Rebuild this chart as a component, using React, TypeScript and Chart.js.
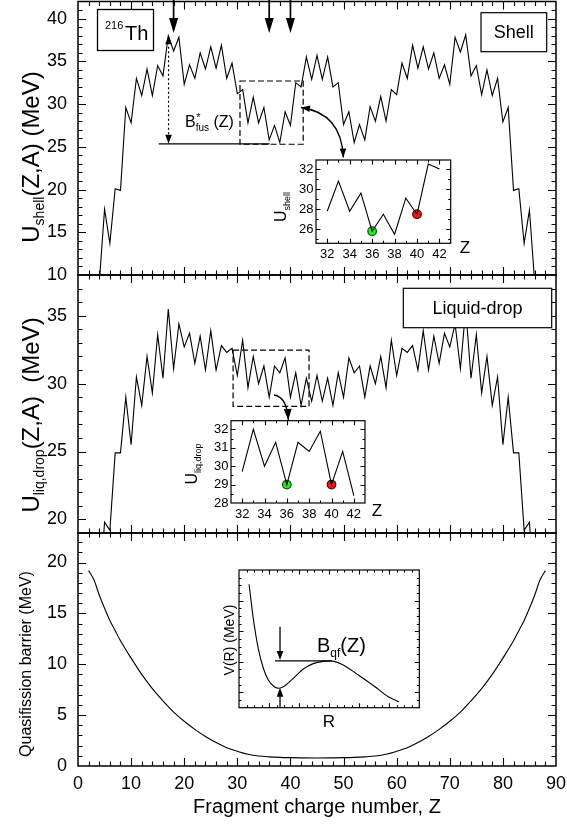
import React, { useEffect, useRef } from 'react';
import { Chart, registerables } from 'chart.js';
Chart.register(...registerables);

const FONT = "'Liberation Sans', Arial, Helvetica, sans-serif";

// ---------------- data ----------------
const fragZ = [4, 5, 6, 7, 8, 9, 10, 11, 12, 13, 14, 15, 16, 17, 18, 19, 20, 21, 22, 23, 24, 25, 26, 27, 28, 29, 30, 31, 32, 33, 34, 35, 36, 37, 38, 39, 40, 41, 42, 43, 44, 45, 46, 47, 48, 49, 50, 51, 52, 53, 54, 55, 56, 57, 58, 59, 60, 61, 62, 63, 64, 65, 66, 67, 68, 69, 70, 71, 72, 73, 74, 75, 76, 77, 78, 79, 80, 81, 82, 83, 84, 85, 86];

const shellU = [9.0, 17.7, 13.7, 20.1, 19.9, 29.6, 27.8, 33.0, 31.0, 34.1, 31.0, 34.5, 33.3, 38.0, 36.2, 37.8, 32.3, 34.6, 33.0, 36.0, 34.1, 36.7, 34.2, 36.9, 33.0, 34.8, 31.2, 31.7, 27.8, 30.8, 27.8, 29.6, 25.8, 27.5, 25.5, 29.1, 27.5, 32.5, 32.0, 35.5, 32.9, 35.7, 32.9, 35.5, 32.0, 32.5, 27.6, 29.1, 25.5, 27.6, 25.8, 29.7, 28.0, 30.9, 28.0, 31.7, 31.1, 34.8, 33.0, 36.9, 34.2, 36.7, 34.1, 36.0, 33.0, 34.6, 32.3, 37.8, 36.1, 38.1, 33.3, 34.5, 31.1, 34.0, 31.0, 33.0, 27.9, 29.6, 19.9, 20.1, 13.7, 17.6, 9.0];

const liqU = [14.0, 19.8, 19.2, 24.9, 24.9, 29.0, 25.5, 30.5, 28.4, 32.0, 29.3, 33.6, 30.4, 35.5, 31.1, 34.4, 32.7, 33.7, 31.5, 33.5, 31.0, 33.9, 31.0, 32.8, 32.3, 32.6, 30.6, 33.2, 29.7, 32.0, 30.0, 31.3, 29.0, 31.3, 30.8, 31.9, 29.0, 30.8, 28.4, 30.4, 28.7, 30.6, 28.7, 30.4, 28.4, 30.8, 29.0, 31.9, 30.8, 31.3, 29.0, 31.3, 30.0, 32.0, 29.7, 33.2, 30.6, 32.6, 32.3, 32.8, 31.0, 33.9, 31.0, 33.5, 31.5, 33.7, 32.7, 34.4, 31.1, 35.5, 30.4, 33.6, 29.3, 32.0, 28.4, 30.5, 25.5, 29.0, 24.9, 24.9, 19.2, 19.8, 14.0];

const qfZ = [2, 3, 4, 5, 6, 7, 8, 10, 12, 14, 16, 18, 20, 22, 24, 26, 28, 30, 32, 34, 36, 38, 40, 42, 45, 48, 50, 52, 54, 56, 58, 60, 62, 64, 66, 68, 70, 72, 74, 76, 78, 80, 82, 83, 84, 85, 86, 87, 88];
const qfB = [19.2, 18.3, 16.8, 15.5, 14.3, 13.3, 12.3, 10.6, 9.0, 7.6, 6.4, 5.3, 4.4, 3.6, 2.9, 2.3, 1.8, 1.45, 1.15, 0.98, 0.9, 0.85, 0.82, 0.8, 0.79, 0.8, 0.82, 0.85, 0.9, 0.98, 1.15, 1.45, 1.8, 2.3, 2.9, 3.6, 4.4, 5.3, 6.4, 7.6, 9.0, 10.6, 12.3, 13.3, 14.3, 15.5, 16.8, 18.3, 19.2];

// schematic V(R) curve of the inset (arbitrary units)
const potR = [0.67, 0.95, 1.28, 1.62, 1.95, 2.35, 2.66, 3.06, 3.61, 4.28, 4.94, 5.6, 6.1, 6.8, 7.94, 9.05, 9.93, 10.65];
const potV = [8.07, 5.84, 3.88, 2.58, 1.81, 1.37, 1.27, 1.44, 1.92, 2.53, 2.88, 3.03, 3.06, 2.85, 2.14, 1.37, 0.72, 0.39];

const insetRange = [32, 42];
const markZ = [36, 40];
const markFill = ['#2ee62e', '#f01818'];
const markEdge = ['#0a5a0a', '#500000'];
const arrowZ = [18, 36, 40];

const mainXTicks = [0, 10, 20, 30, 40, 50, 60, 70, 80, 90];
const shellYTicks = [10, 15, 20, 25, 30, 35, 40];
const liqYTicks = [20, 25, 30, 35];
const qfYTicks = [0, 5, 10, 15, 20];
const insetXTicks = [32, 34, 36, 38, 40, 42];
const insetShellYTicks = [26, 28, 30, 32];
const insetLiqYTicks = [28, 29, 30, 31, 32];

// ---------------- helpers ----------------
const toXY = (xs: number[], ys: number[]) => xs.map((x, i) => ({ x, y: ys[i] }));
const sliceXY = (xs: number[], ys: number[]) =>
  toXY(xs, ys).filter((p) => p.x >= insetRange[0] && p.x <= insetRange[1]);
const lineDs = (data: any[], extra: any = {}) => ({
  data, borderColor: '#000', borderWidth: 1.1, pointRadius: 0, fill: false, tension: 0, ...extra,
});
const dotDs = (xs: number[], ys: number[]) => ({
  data: markZ.map((z) => ({ x: z, y: ys[xs.indexOf(z)] })),
  showLine: false, pointRadius: 4.3, pointBackgroundColor: markFill, pointBorderColor: markEdge,
  pointBorderWidth: 1.2, borderColor: '#000',
});

type Part = { t: string; f: number; dy?: number };
function rich(ctx: CanvasRenderingContext2D, x: number, y: number, parts: Part[]) {
  let cx = x;
  for (const p of parts) {
    ctx.font = `${p.f}px ${FONT}`;
    ctx.fillText(p.t, cx, y + (p.dy || 0));
    cx += ctx.measureText(p.t).width;
  }
  return cx - x;
}
function richWidth(ctx: CanvasRenderingContext2D, parts: Part[]) {
  let w = 0;
  for (const p of parts) { ctx.font = `${p.f}px ${FONT}`; w += ctx.measureText(p.t).width; }
  return w;
}
function vRich(ctx: CanvasRenderingContext2D, bx: number, cy: number, parts: Part[]) {
  const w = richWidth(ctx, parts);
  ctx.save();
  ctx.translate(bx, cy + w / 2);
  ctx.rotate(-Math.PI / 2);
  ctx.textAlign = 'left';
  rich(ctx, 0, 0, parts);
  ctx.restore();
}
function seg(ctx: CanvasRenderingContext2D, x1: number, y1: number, x2: number, y2: number) {
  ctx.beginPath(); ctx.moveTo(x1, y1); ctx.lineTo(x2, y2); ctx.stroke();
}
function head(ctx: CanvasRenderingContext2D, x: number, y: number, ang: number, len: number, hw: number) {
  const c = Math.cos(ang), s = Math.sin(ang);
  ctx.beginPath();
  ctx.moveTo(x, y);
  ctx.lineTo(x - len * c + hw * s, y - len * s - hw * c);
  ctx.lineTo(x - len * c - hw * s, y - len * s + hw * c);
  ctx.closePath();
  ctx.fill();
}
function labelBox(ctx: CanvasRenderingContext2D, x: number, y: number, w: number, h: number, text: string, size: number) {
  ctx.fillStyle = '#fff';
  ctx.fillRect(x, y, w, h);
  ctx.fillStyle = '#000';
  ctx.lineWidth = 1.2;
  ctx.strokeRect(x, y, w, h);
  ctx.font = `${size}px ${FONT}`;
  ctx.textAlign = 'center';
  ctx.textBaseline = 'middle';
  ctx.fillText(text, x + w / 2, y + h / 2 + 1);
  ctx.textAlign = 'left';
  ctx.textBaseline = 'alphabetic';
}

type Fn = (v: number) => number;
type Spec = {
  L: number; T: number; W: number; H: number;
  l: number; t: number; r: number; b: number;
  xMin: number; xMax: number; yMin: number; yMax: number;
  xTicks: number[] | null; yTicks: number[] | null;
  lab: number; xPad: number; yPad: number;
  xMajor: number; xMinor: number; yMajor: number; yMinor: number; yOff?: number;
  majLen: number; minLen: number; frameW: number;
  datasets: any[];
  draw?: (ctx: CanvasRenderingContext2D, X: Fn, Y: Fn) => void;
};

function isMajor(v: number, step: number, off = 0) {
  const q = (v - off) / step;
  return Math.abs(q - Math.round(q)) < 1e-6;
}

function framePlugin(s: Spec) {
  return {
    id: 'frameTicks',
    afterDatasetsDraw(chart: any) {
      const { ctx, chartArea: a } = chart;
      const sx = chart.scales.x, sy = chart.scales.y;
      ctx.save();
      ctx.strokeStyle = '#000';
      ctx.lineWidth = 1.1;
      ctx.beginPath();
      const kx0 = Math.ceil(s.xMin / s.xMinor - 1e-9), kx1 = Math.floor(s.xMax / s.xMinor + 1e-9);
      for (let k = kx0; k <= kx1; k++) {
        const v = k * s.xMinor;
        if (Math.abs(v - s.xMin) < 1e-9 || Math.abs(v - s.xMax) < 1e-9) continue;
        const len = isMajor(v, s.xMajor) ? s.majLen : s.minLen;
        const x = Math.round(sx.getPixelForValue(v)) + 0.5;
        ctx.moveTo(x, a.bottom); ctx.lineTo(x, a.bottom - len);
        ctx.moveTo(x, a.top); ctx.lineTo(x, a.top + len);
      }
      const ky0 = Math.ceil(s.yMin / s.yMinor - 1e-9), ky1 = Math.floor(s.yMax / s.yMinor + 1e-9);
      for (let k = ky0; k <= ky1; k++) {
        const v = k * s.yMinor;
        if (Math.abs(v - s.yMin) < 1e-9 || Math.abs(v - s.yMax) < 1e-9) continue;
        const len = isMajor(v, s.yMajor, s.yOff || 0) ? s.majLen : s.minLen;
        const y = Math.round(sy.getPixelForValue(v)) + 0.5;
        ctx.moveTo(a.left, y); ctx.lineTo(a.left + len, y);
        ctx.moveTo(a.right, y); ctx.lineTo(a.right - len, y);
      }
      ctx.stroke();
      ctx.lineWidth = s.frameW;
      ctx.strokeRect(a.left, a.top, a.right - a.left, a.bottom - a.top);
      ctx.restore();
    },
    afterDraw(chart: any) {
      if (!s.draw) return;
      const ctx = chart.ctx as CanvasRenderingContext2D;
      const sx = chart.scales.x, sy = chart.scales.y;
      ctx.save();
      ctx.translate(-s.L, -s.T);
      ctx.strokeStyle = '#000';
      ctx.fillStyle = '#000';
      ctx.textBaseline = 'alphabetic';
      s.draw(ctx, (v) => sx.getPixelForValue(v) + s.L, (v) => sy.getPixelForValue(v) + s.T);
      ctx.restore();
    },
  };
}

function zeroPad(sc: any) {
  sc.paddingLeft = 0; sc.paddingRight = 0; sc.paddingTop = 0; sc.paddingBottom = 0;
}

function buildConfig(s: Spec): any {
  const showX = !!s.xTicks, showY = !!s.yTicks;
  const tickFont = { family: FONT, size: s.lab };
  return {
    type: 'line',
    data: { datasets: s.datasets },
    options: {
      responsive: false,
      animation: false,
      events: [],
      layout: {
        padding: {
          left: showY ? 0 : s.l - s.L,
          right: s.L + s.W - s.r,
          top: s.t - s.T,
          bottom: showX ? 0 : s.T + s.H - s.b,
        },
      },
      plugins: { legend: { display: false }, tooltip: { enabled: false }, title: { display: false } },
      scales: {
        x: {
          type: 'linear', min: s.xMin, max: s.xMax, display: showX,
          grid: { display: false, drawTicks: false }, border: { display: false },
          ticks: { color: '#000', font: tickFont, padding: s.xPad, maxRotation: 0, autoSkip: false },
          afterBuildTicks: (sc: any) => { if (s.xTicks) sc.ticks = s.xTicks.map((v) => ({ value: v })); },
          afterFit: (sc: any) => { if (showX) sc.height = s.T + s.H - s.b; zeroPad(sc); },
        },
        y: {
          type: 'linear', min: s.yMin, max: s.yMax, display: showY,
          grid: { display: false, drawTicks: false }, border: { display: false },
          ticks: { color: '#000', font: tickFont, padding: s.yPad, autoSkip: false },
          afterBuildTicks: (sc: any) => { if (s.yTicks) sc.ticks = s.yTicks.map((v) => ({ value: v })); },
          afterFit: (sc: any) => { if (showY) sc.width = s.l - s.L; zeroPad(sc); },
        },
      },
    },
    plugins: [framePlugin(s)],
  };
}

// ---------------- annotations ----------------
function drawShellPanel(ctx: CanvasRenderingContext2D, X: Fn, Y: Fn) {
  ctx.lineWidth = 1.7;
  for (const z of arrowZ) {
    const x = X(z), tip = Y(38.3);
    seg(ctx, x, 0, x, tip - 10);
    head(ctx, x, tip, Math.PI / 2, 15, 4.5);
  }
  ctx.lineWidth = 1.2;
  ctx.setLineDash([6, 3]);
  ctx.strokeRect(X(30.5), Y(32.7), X(42.4) - X(30.5), Y(25.3) - Y(32.7));
  ctx.setLineDash([]);
  ctx.lineWidth = 1.3;
  seg(ctx, X(15.2), Y(25.35), X(36.1), Y(25.35));
  const zx = X(17.05);
  ctx.lineWidth = 1.2;
  ctx.setLineDash([2, 2.5]);
  seg(ctx, zx, Y(38.05) + 7, zx, Y(25.35) - 7);
  ctx.setLineDash([]);
  head(ctx, zx, Y(38.05), -Math.PI / 2, 9, 3.3);
  head(ctx, zx, Y(25.35), Math.PI / 2, 9, 3.3);
  ctx.font = `16px ${FONT}`;
  ctx.fillText('B', 185, 127);
  const bw = ctx.measureText('B').width;
  ctx.font = `11px ${FONT}`;
  ctx.fillText('*', 185 + bw + 0.5, 121);
  rich(ctx, 185 + bw, 127, [{ t: 'fus', f: 10, dy: 4 }, { t: ' (Z)', f: 16 }]);
  const sx0 = 301, sy0 = 107.5, cx = 341.7, cy = 113.3, ex = 343.3, ey = 157.5;
  ctx.lineWidth = 1.3;
  ctx.beginPath(); ctx.moveTo(sx0, sy0); ctx.quadraticCurveTo(cx, cy, ex, ey); ctx.stroke();
  head(ctx, sx0, sy0, Math.atan2(sy0 - cy, sx0 - cx), 9, 3.3);
  head(ctx, ex, ey, Math.atan2(ey - cy, ex - cx), 9, 3.3);
  ctx.lineWidth = 1.3;
  ctx.strokeRect(97.5, 9.5, 56, 41);
  rich(ctx, 105, 29, [{ t: '216', f: 11 }]);
  rich(ctx, 125, 40, [{ t: 'Th', f: 20 }]);
  labelBox(ctx, 481, 12.7, 65.7, 39, 'Shell', 18);
  vRich(ctx, 39, 157, [{ t: 'U', f: 24 }, { t: 'shell', f: 14, dy: 5 }, { t: '(Z,A) (MeV)', f: 24 }]);
}

function drawLiqPanel(ctx: CanvasRenderingContext2D, X: Fn, Y: Fn) {
  ctx.lineWidth = 1.2;
  ctx.setLineDash([6, 3]);
  ctx.strokeRect(X(29.2), Y(32.47), X(43.5) - X(29.2), Y(28.33) - Y(32.47));
  ctx.setLineDash([]);
  const sx0 = 274, sy0 = 395, cx = 287, cy = 397, ex = 288.3, ey = 420;
  ctx.lineWidth = 1.3;
  ctx.beginPath(); ctx.moveTo(sx0, sy0); ctx.quadraticCurveTo(cx, cy, ex, ey); ctx.stroke();
  head(ctx, ex, ey, Math.atan2(ey - cy, ex - cx), 11, 4);
  labelBox(ctx, 403.3, 288.3, 148.4, 39.4, 'Liquid-drop', 18);
  vRich(ctx, 39, 415, [{ t: 'U', f: 24 }, { t: 'liq,drop', f: 14, dy: 5 }, { t: '(Z,A)  (MeV)', f: 24 }]);
}

function drawQfPanel(ctx: CanvasRenderingContext2D) {
  vRich(ctx, 31, 664, [{ t: 'Quasifission barrier (MeV)', f: 16 }]);
  ctx.font = `20px ${FONT}`;
  ctx.textAlign = 'center';
  ctx.fillText('Fragment charge number, Z', 317, 813);
  ctx.textAlign = 'left';
}

function drawShellInset(ctx: CanvasRenderingContext2D) {
  vRich(ctx, 286, 207, [{ t: 'U', f: 16 }, { t: 'shell', f: 9, dy: 4 }]);
  ctx.font = `17px ${FONT}`;
  ctx.textAlign = 'center';
  ctx.fillText('Z', 465, 253);
  ctx.textAlign = 'left';
}

function drawLiqInset(ctx: CanvasRenderingContext2D) {
  vRich(ctx, 197, 464, [{ t: 'U', f: 16 }, { t: 'liq,drop', f: 9, dy: 4 }]);
  ctx.font = `17px ${FONT}`;
  ctx.textAlign = 'center';
  ctx.fillText('Z', 377, 516);
  ctx.textAlign = 'left';
}

function drawPotInset(ctx: CanvasRenderingContext2D, X: Fn, Y: Fn) {
  ctx.lineWidth = 1.2;
  seg(ctx, X(2.4), Y(3.06), X(6.17), Y(3.06));
  ctx.lineWidth = 1.3;
  seg(ctx, X(2.73), Y(5.29), X(2.73), Y(3.12) - 8);
  head(ctx, X(2.73), Y(3.12), Math.PI / 2, 9, 3.3);
  seg(ctx, X(2.73), Y(0), X(2.73), Y(1.3) + 8);
  head(ctx, X(2.73), Y(1.3), -Math.PI / 2, 9, 3.3);
  rich(ctx, 317, 652, [{ t: 'B', f: 20 }, { t: 'qf', f: 12, dy: 5 }, { t: '(Z)', f: 20 }]);
  vRich(ctx, 234, 640, [{ t: 'V(R) (MeV)', f: 14 }]);
  ctx.font = `17px ${FONT}`;
  ctx.textAlign = 'center';
  ctx.fillText('R', 329, 727);
  ctx.textAlign = 'left';
}

const mainCommon = {
  xMin: 0, xMax: 90, lab: 18, xPad: 7, yPad: 11,
  xMajor: 10, xMinor: 2, yMajor: 5, yMinor: 1, majLen: 8, minLen: 4.5, frameW: 1.5,
};
const insetCommon = {
  lab: 13, xPad: 3, yPad: 2.5, xMajor: 2, xMinor: 1, majLen: 4.5, minLen: 2.5, frameW: 1.2,
};

const SPECS: Spec[] = [
  {
    ...mainCommon, L: 0, T: 0, W: 567, H: 300, l: 78, t: 1.5, r: 556, b: 275,
    yMin: 10, yMax: 42, xTicks: null, yTicks: shellYTicks,
    datasets: [lineDs(toXY(fragZ, shellU))], draw: drawShellPanel,
  },
  {
    ...mainCommon, L: 0, T: 255, W: 567, H: 300, l: 78, t: 275, r: 556, b: 533,
    yMin: 19, yMax: 38, xTicks: null, yTicks: liqYTicks,
    datasets: [lineDs(toXY(fragZ, liqU))], draw: drawLiqPanel,
  },
  {
    ...mainCommon, L: 0, T: 513, W: 567, H: 311, l: 78, t: 533, r: 556, b: 766,
    yMin: 0, yMax: 22.9, xTicks: mainXTicks, yTicks: qfYTicks,
    datasets: [lineDs(toXY(qfZ, qfB), { cubicInterpolationMode: 'monotone' })],
    draw: (ctx) => drawQfPanel(ctx),
  },
  {
    ...insetCommon, L: 250, T: 145, W: 230, H: 125, l: 316, t: 160, r: 450.7, b: 243.3,
    xMin: 31, xMax: 43, yMin: 24.6, yMax: 32.9, xTicks: insetXTicks, yTicks: insetShellYTicks,
    yMajor: 2, yMinor: 1,
    datasets: [lineDs(sliceXY(fragZ, shellU)), dotDs(fragZ, shellU)],
    draw: (ctx) => drawShellInset(ctx),
  },
  {
    ...insetCommon, L: 170, T: 405, W: 225, H: 120, l: 231, t: 420.7, r: 365, b: 503,
    xMin: 31, xMax: 43, yMin: 28, yMax: 32.47, xTicks: insetXTicks, yTicks: insetLiqYTicks, xPad: 4,
    yMajor: 1, yMinor: 0.5,
    datasets: [lineDs(sliceXY(fragZ, liqU)), dotDs(fragZ, liqU)],
    draw: (ctx) => drawLiqInset(ctx),
  },
  {
    ...insetCommon, L: 210, T: 560, W: 230, H: 175, l: 239, t: 570, r: 419.3, b: 707.7,
    xMin: 0, xMax: 12, yMin: 0, yMax: 9, xTicks: null, yTicks: null,
    xMajor: 2, xMinor: 0.5, yMajor: 2, yOff: 1, yMinor: 0.5,
    datasets: [lineDs(toXY(potR, potV), { cubicInterpolationMode: 'monotone' })],
    draw: drawPotInset,
  },
];

export default function App() {
  const canvases = useRef<(HTMLCanvasElement | null)[]>([]);
  useEffect(() => {
    document.body.style.margin = '0';
    const charts = SPECS.map((s, i) => new Chart(canvases.current[i] as HTMLCanvasElement, buildConfig(s)));
    return () => charts.forEach((c) => c.destroy());
  }, []);
  return (
    <div style={{ position: 'relative', width: 567, height: 824, background: '#fff', overflow: 'hidden' }}>
      {SPECS.map((s, i) => (
        <canvas
          key={i}
          ref={(el) => { canvases.current[i] = el; }}
          width={s.W}
          height={s.H}
          style={{ position: 'absolute', left: s.L, top: s.T, width: s.W, height: s.H }}
        />
      ))}
    </div>
  );
}
